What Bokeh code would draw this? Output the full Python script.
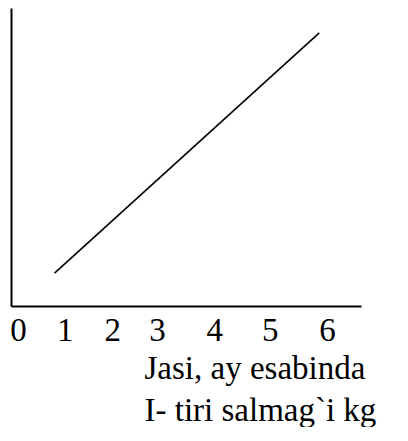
from bokeh.plotting import figure
from bokeh.models import Range1d, FixedTicker, Title
from bokeh.embed import file_html
from bokeh.resources import INLINE

# data
age_months = [0.70, 5.84]
live_weight = [1.12, 9.18]
tick_positions = [0, 0.91, 1.83, 2.70, 3.81, 4.89, 6.0]
tick_labels = ["0", "1", "2", "3", "4", "5", "6"]
xlabel_line1 = "Jasi,  ay esabinda"
xlabel_line2 = "I- tiri salmag`i kg"

FONT = "Liberation Serif"
FSIZE = "33px"

p = figure(frame_width=350, frame_height=298, output_backend="svg",
           toolbar_location=None,
           x_range=Range1d(-0.136, 6.66), y_range=Range1d(0, 10),
           min_border_left=11, min_border_top=8, min_border_right=40,
           min_border_bottom=0)
p.grid.visible = False
p.outline_line_color = None
p.background_fill_color = "white"
p.border_fill_color = "white"

p.line(age_months, live_weight, line_color="black", line_width=1.6)

xa = p.xaxis[0]
xa.ticker = FixedTicker(ticks=tick_positions)
xa.major_label_overrides = {t: l for t, l in zip(tick_positions, tick_labels)}
xa.axis_line_width = 2
xa.axis_line_color = "black"
xa.major_tick_line_color = None
xa.minor_tick_line_color = None
xa.major_tick_out = 0
xa.major_tick_in = 0
xa.major_label_standoff = 12
xa.major_label_text_font = FONT
xa.major_label_text_font_size = FSIZE
xa.major_label_text_color = "black"

ya = p.yaxis[0]
ya.ticker = FixedTicker(ticks=[])
ya.axis_line_width = 2
ya.axis_line_color = "black"
ya.major_tick_line_color = None
ya.minor_tick_line_color = None
ya.major_tick_out = 0
ya.major_tick_in = 0
ya.major_label_standoff = 0

for i, txt in enumerate((xlabel_line1, xlabel_line2)):
    t = Title(text=txt, align="left", offset=133, text_font=FONT,
              text_font_size=FSIZE, text_font_style="normal",
              text_color="black", standoff=(8 if i == 0 else 0))
    p.add_layout(t, "below")

open("out.html", "w").write(file_html(p, INLINE))
